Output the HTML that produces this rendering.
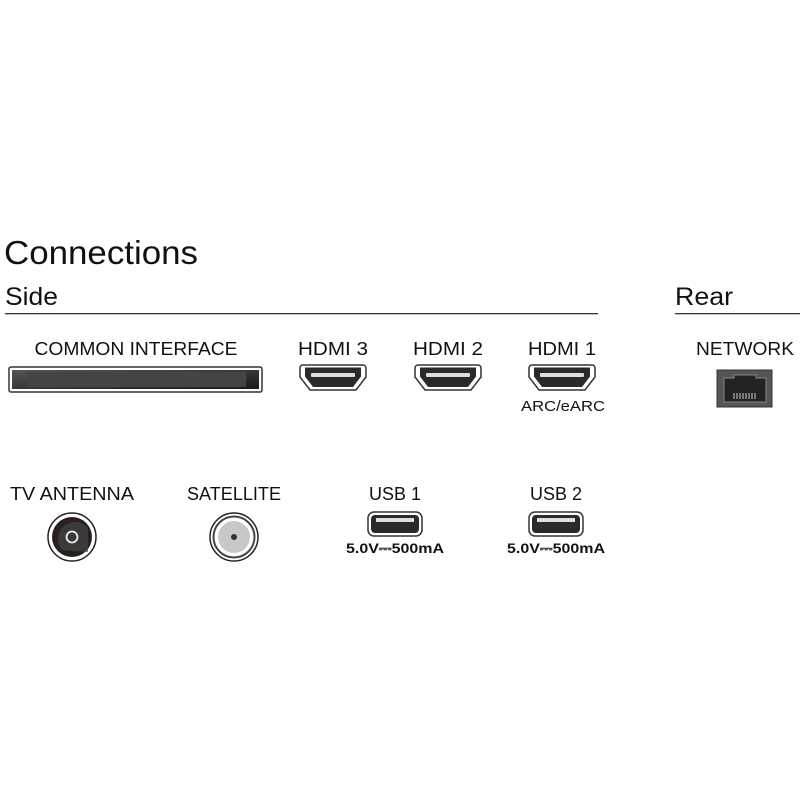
<!DOCTYPE html>
<html><head><style>body{margin:0;background:#fff}svg{display:block}</style></head><body>
<svg width="800" height="800" viewBox="0 0 800 800" font-family="Liberation Sans, sans-serif" fill="#111">
<defs>
<linearGradient id="g" x1="0" y1="0" x2="1" y2="1"><stop offset="0" stop-color="#555"/><stop offset="1" stop-color="#1a1a1a"/></linearGradient>
<g id="hdmi"><path d="M-30,-12 h60 a3,3 0 0 1 3,3 v9 l-10,13 h-46 l-10,-13 v-9 a3,3 0 0 1 3,-3 z" fill="#fff" stroke="#333" stroke-width="1.5"/><path d="M-28,-9.5 h56 v9 l-8,10.5 h-40 l-8,-10.5 z" fill="#2a2a2a"/><rect x="-22" y="-4" width="44" height="4" fill="#ddd" rx="1"/></g>
<g id="usb"><rect x="-27" y="-12" width="54" height="24" rx="6" fill="#fff" stroke="#333" stroke-width="1.5"/><rect x="-24" y="-9" width="48" height="18" rx="4" fill="#2a2a2a"/><rect x="-19" y="-6" width="38" height="4" fill="#ddd"/></g>
</defs>
<text x="4" y="264" font-size="33" textLength="194" lengthAdjust="spacingAndGlyphs">Connections</text>
<text x="5" y="305" font-size="25" textLength="53" lengthAdjust="spacingAndGlyphs">Side</text>
<rect x="5" y="313" width="593" height="1.3" fill="#333"/>
<text x="675" y="305" font-size="25" textLength="58" lengthAdjust="spacingAndGlyphs">Rear</text>
<rect x="675" y="313" width="125" height="1.3" fill="#333"/>
<g font-size="18" text-anchor="middle" lengthAdjust="spacingAndGlyphs">
<text x="136" y="355" textLength="203" lengthAdjust="spacingAndGlyphs">COMMON INTERFACE</text>
<text x="333" y="355" textLength="70" lengthAdjust="spacingAndGlyphs">HDMI 3</text>
<text x="448" y="355" textLength="70" lengthAdjust="spacingAndGlyphs">HDMI 2</text>
<text x="562" y="355" textLength="68" lengthAdjust="spacingAndGlyphs">HDMI 1</text>
<text x="745" y="355" textLength="98" lengthAdjust="spacingAndGlyphs">NETWORK</text>
<text x="72" y="500" textLength="124" lengthAdjust="spacingAndGlyphs">TV ANTENNA</text>
<text x="234" y="500" textLength="94" lengthAdjust="spacingAndGlyphs">SATELLITE</text>
<text x="395" y="500" textLength="52" lengthAdjust="spacingAndGlyphs">USB 1</text>
<text x="556" y="500" textLength="52" lengthAdjust="spacingAndGlyphs">USB 2</text>
</g>
<text x="563" y="411" font-size="15" text-anchor="middle" textLength="84" lengthAdjust="spacingAndGlyphs">ARC/eARC</text>
<rect x="9" y="367" width="253" height="25" rx="2" fill="#fff" stroke="#333" stroke-width="1.5"/>
<rect x="12" y="370" width="247" height="19" fill="url(#g)"/>
<path d="M27,372 h219 v15 h-219 z" fill="#444"/>
<use href="#hdmi" x="333" y="377"/>
<use href="#hdmi" x="448" y="377"/>
<use href="#hdmi" x="562" y="377"/>
<rect x="717" y="370" width="55" height="37" fill="#555" stroke="#333"/>
<path d="M724,378 h10 v-3 h22 v3 h10 v24 h-42 z" fill="#222" stroke="#888" stroke-width="1"/>
<g stroke="#ccc" stroke-width="1"><path d="M734,393v6M737,393v6M740,393v6M743,393v6M746,393v6M749,393v6M752,393v6M755,393v6"/></g>
<circle cx="72" cy="537" r="24" fill="#fff" stroke="#222" stroke-width="1.5"/>
<circle cx="72" cy="537" r="20" fill="#2a2020"/>
<path d="M62,550 a16,16 0 0 1 26,-22 v24z" fill="#444" opacity="0.7"/>
<circle cx="72" cy="537" r="5.5" fill="none" stroke="#eee" stroke-width="1.8"/>
<circle cx="234" cy="537" r="24" fill="#fff" stroke="#222" stroke-width="1.5"/>
<circle cx="234" cy="537" r="20.5" fill="#fff" stroke="#444" stroke-width="2"/>
<circle cx="234" cy="537" r="16" fill="#c8c8c8"/>
<circle cx="234" cy="537" r="3" fill="#333"/>
<use href="#usb" x="395" y="524"/>
<use href="#usb" x="556" y="524"/>
<g font-size="14" font-weight="bold" text-anchor="middle">
<text x="395" y="553" textLength="98" lengthAdjust="spacingAndGlyphs">5.0V⎓500mA</text>
<text x="556" y="553" textLength="98" lengthAdjust="spacingAndGlyphs">5.0V⎓500mA</text>
</g>
</svg>
</body></html>
